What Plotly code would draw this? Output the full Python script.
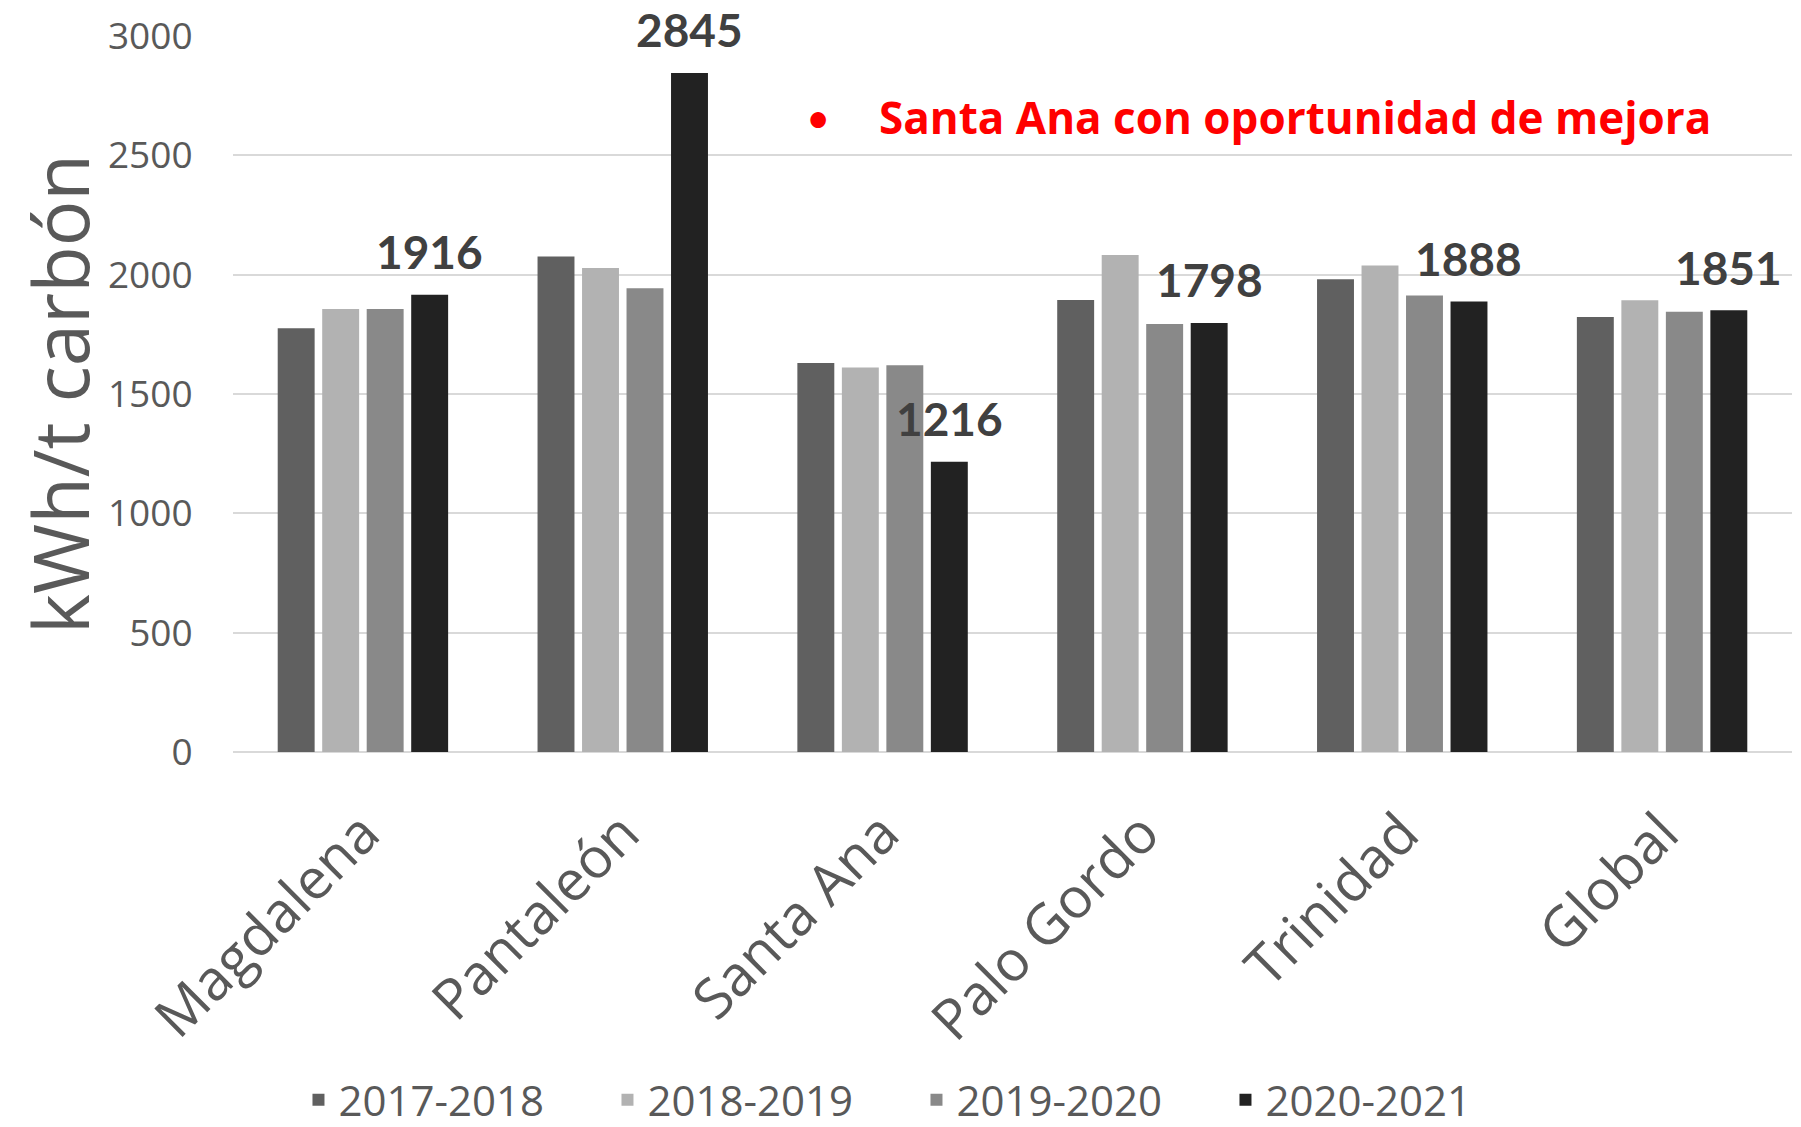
import plotly.graph_objects as go

categories = ["Magdalena", "Pantaleón", "Santa Ana", "Palo Gordo", "Trinidad", "Global"]
series_names = ["2017-2018", "2018-2019", "2019-2020", "2020-2021"]
v_2017_2018 = [1775, 2076, 1630, 1894, 1981, 1823]
v_2018_2019 = [1856, 2028, 1611, 2082, 2038, 1893]
v_2019_2020 = [1856, 1943, 1620, 1793, 1913, 1845]
v_2020_2021 = [1916, 2845, 1216, 1798, 1888, 1851]
series_values = [v_2017_2018, v_2018_2019, v_2019_2020, v_2020_2021]
colors = ["#606060", "#b2b2b2", "#898989", "#222222"]
y_ticks = [0, 500, 1000, 1500, 2000, 2500, 3000]
note_text = "Santa Ana con oportunidad de mejora"

BARGAP = 0.315
BARGROUPGAP = 0.17
FONT = "Open Sans"
GREY = "#595959"

fig = go.Figure()
for name, vals, col in zip(series_names, series_values, colors):
    fig.add_trace(go.Bar(x=categories, y=vals, name=name, marker=dict(color=col, line=dict(width=0))))

# data labels for last series (above the 4th bar of each group)
n_series = len(series_names)
offset = (1 - BARGAP) * ((n_series - 0.5) / n_series - 0.5)
for i, v in enumerate(v_2020_2021):
    fig.add_annotation(x=i + offset, y=v, xref="x", yref="y", text=str(v), showarrow=False,
                       yshift=43, font=dict(family="Lato", size=46, color="#404040", weight="bold"))

fig.add_annotation(xref="paper", yref="paper", x=0.375, y=0.887, text="•", showarrow=False,
                   xanchor="center", yanchor="middle", font=dict(family="Lato", size=42, color="#ff0000"))
fig.add_annotation(xref="paper", yref="paper", x=0.413, y=0.887, text=note_text, showarrow=False,
                   xanchor="left", yanchor="middle",
                   font=dict(family="Open Sans", size=44, color="#ff0000", weight="bold"))

fig.update_layout(
    width=1793, height=1119,
    margin=dict(l=225, r=9, t=28, b=375, autoexpand=False),
    paper_bgcolor="white", plot_bgcolor="white",
    barmode="group", bargap=BARGAP, bargroupgap=BARGROUPGAP,
    showlegend=True,
    legend=dict(orientation="h", x=0.042, xanchor="left", y=-0.486, yanchor="middle",
                font=dict(family=FONT, size=42, color=GREY), entrywidth=264, entrywidthmode="pixels",
                bgcolor="rgba(0,0,0,0)", traceorder="normal"),
    font=dict(family=FONT, color=GREY),
)
fig.update_yaxes(range=[0, 3000], tickvals=y_ticks, showgrid=True, gridcolor="#d9d9d9", gridwidth=2,
                 zeroline=True, zerolinecolor="#d9d9d9", zerolinewidth=2, showline=False, automargin=False,
                 ticks="outside", ticklen=32, tickcolor="rgba(0,0,0,0)",
                 tickfont=dict(family=FONT, size=37, color=GREY),
                 title=dict(text="kWh/t carbón", font=dict(family=FONT, size=76, color=GREY), standoff=39))
fig.update_xaxes(tickangle=-45, ticks="outside", ticklen=25, tickcolor="rgba(0,0,0,0)", automargin=False,
                 tickfont=dict(family=FONT, size=56, color=GREY), showline=False, showgrid=False)

fig.write_html("out.html")
